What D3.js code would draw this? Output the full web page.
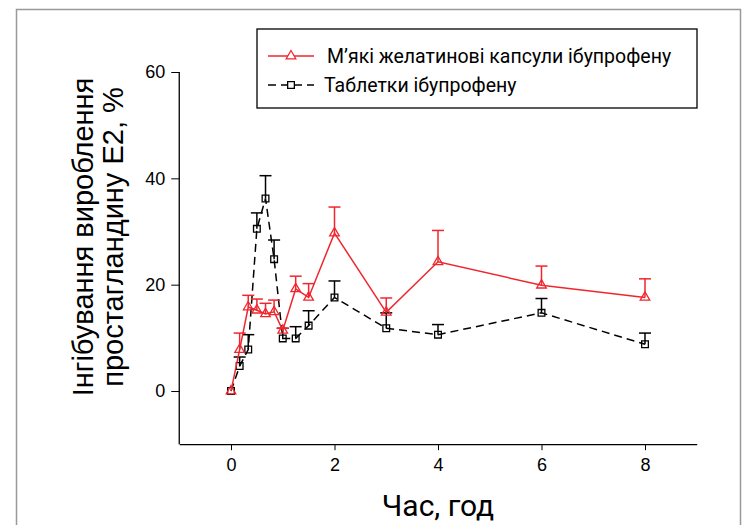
<!DOCTYPE html>
<html>
<head>
<meta charset="utf-8">
<script src="https://cdn.jsdelivr.net/npm/d3@7"></script>
<style>
  body { margin: 0; background: #fff; }
  svg { display: block; }
</style>
</head>
<body>
<svg width="749" height="525"></svg>
<script>
'use strict';

// time points, h
const times = [0, 0.167, 0.333, 0.5, 0.667, 0.833, 1, 1.25, 1.5, 2, 3, 4, 6, 8]

// soft gelatin capsules
const capsMean = [0, 7.8, 15.8, 15.2, 14.5, 14.9, 11.4, 19.2, 17.6, 29.7, 14.8, 24.3, 19.9, 17.6]
const capsErr = [0, 3.1, 2.2, 2.1, 2.0, 2.2, 0.4, 2.4, 2.6, 4.9, 2.7, 5.9, 3.6, 3.5]

// tablets
const tabsMean = [0, 4.7, 7.8, 30.5, 36.2, 24.8, 9.9, 9.9, 12.3, 17.6, 11.8, 10.6, 14.7, 8.8]
const tabsErr = [0, 1.7, 2.8, 3.0, 4.3, 3.6, 1.9, 2.2, 2.8, 3.1, 2.9, 1.9, 2.7, 2.1]

const xTicks = [0, 2, 4, 6, 8]
const yTicks = [0, 20, 40, 60]

const seriesNames = ['М’які желатинові капсули ібупрофену', 'Таблетки ібупрофену']

const svg = d3.select('svg')

// outer frame
svg.append('rect')
  .attr('x', 16.5).attr('y', 9.5)
  .attr('width', 724).attr('height', 530)
  .style('fill', 'none')
  .style('stroke', '#999')
  .style('stroke-width', '1.5px')

const x = d3.scaleLinear().domain([-1, 9]).range([179.25, 696.75])
const y = d3.scaleLinear().domain([-10, 60]).range([444.2, 72])

const tickFont = '"Liberation Sans", Arial, sans-serif'

// y axis: line goes from -10 to 60
svg.append('line')
  .attr('x1', x(-1)).attr('x2', x(-1))
  .attr('y1', y(-10)).attr('y2', y(60))
  .style('stroke', '#000').style('stroke-width', '1.3px')

const yAxis = svg.append('g').attr('transform', `translate(${x(-1)},0)`)
  .call(d3.axisLeft(y).tickValues(yTicks).tickSize(8).tickPadding(6))
yAxis.select('.domain').remove()
yAxis.selectAll('text').style('font-family', tickFont).style('font-size', '18px').style('fill', '#000')

const xAxis = svg.append('g').attr('transform', `translate(0,${y(-10)})`)
  .call(d3.axisBottom(x).tickValues(xTicks).tickSize(6).tickSizeOuter(0).tickPadding(8))
xAxis.select('.domain').style('stroke-width', '1.3px')
xAxis.selectAll('text').style('font-family', tickFont).style('font-size', '18px').style('fill', '#000')

// axis titles
svg.append('text')
  .attr('x', 438).attr('y', 516)
  .attr('text-anchor', 'middle')
  .style('font-family', 'Roboto, sans-serif')
  .style('font-size', '30px')
  .text('Час, год')

const yTitle = svg.append('text')
  .attr('transform', 'translate(0,237) rotate(-90)')
  .attr('text-anchor', 'middle')
  .style('font-family', tickFont)
  .style('font-size', '29px')
yTitle.append('tspan').attr('x', 0).attr('y', 93).text('Інгібування вироблення')
yTitle.append('tspan').attr('x', 0).attr('y', 123).text('простагландину Е2, %')

const capsData = times.map((t, i) => ({ t, v: capsMean[i], e: capsErr[i] }))
const tabsData = times.map((t, i) => ({ t, v: tabsMean[i], e: tabsErr[i] }))

const line = d3.line().x((d) => x(d.t)).y((d) => y(d.v))
const triangle = d3.symbol().type(d3.symbolTriangle).size(40)
const square = d3.symbol().type(d3.symbolSquare).size(45)

function drawSeries(data, color, dash, symbol) {
  const g = svg.append('g')
  g.append('path')
    .datum(data)
    .attr('d', line)
    .style('fill', 'none')
    .style('stroke', color)
    .style('stroke-width', '1.5px')
    .style('stroke-dasharray', dash)
  const bars = g.selectAll('g.err')
    .data(data.filter((d) => d.e > 0))
    .enter().append('g').attr('class', 'err')
  bars.append('line')
    .attr('x1', (d) => x(d.t)).attr('x2', (d) => x(d.t))
    .attr('y1', (d) => y(d.v)).attr('y2', (d) => y(d.v + d.e))
    .style('stroke', color).style('stroke-width', '1.5px')
  bars.append('line')
    .attr('x1', (d) => x(d.t) - 6).attr('x2', (d) => x(d.t) + 6)
    .attr('y1', (d) => y(d.v + d.e)).attr('y2', (d) => y(d.v + d.e))
    .style('stroke', color).style('stroke-width', '1.5px')
  g.selectAll('path.mark')
    .data(data)
    .enter().append('path')
    .attr('class', 'mark')
    .attr('d', symbol)
    .attr('transform', (d) => `translate(${x(d.t)},${y(d.v)})`)
    .style('fill', 'none')
    .style('stroke', color)
    .style('stroke-width', '1.3px')
}

drawSeries(tabsData, '#000', '8,5', square)
drawSeries(capsData, '#f0262e', null, triangle)

// legend
const legend = svg.append('g')
legend.append('rect')
  .attr('x', 257).attr('y', 29)
  .attr('width', 440).attr('height', 79)
  .style('fill', '#fff')
  .style('stroke', '#000')
  .style('stroke-width', '1.3px')

const legendItems = [
  { name: seriesNames[0], color: '#f0262e', dash: null, symbol: triangle, ly: 56, tx: 327 },
  { name: seriesNames[1], color: '#000', dash: '8,5', symbol: square, ly: 85, tx: 324 }
]
legendItems.forEach((it) => {
  legend.append('line')
    .attr('x1', 268).attr('x2', 314)
    .attr('y1', it.ly).attr('y2', it.ly)
    .style('stroke', it.color).style('stroke-width', '1.5px')
    .style('stroke-dasharray', it.dash)
  legend.append('path')
    .attr('d', it.symbol)
    .attr('transform', `translate(291,${it.ly})`)
    .style('fill', '#fff')
    .style('stroke', it.color)
    .style('stroke-width', '1.3px')
  legend.append('text')
    .attr('x', it.tx).attr('y', it.ly + 7)
    .style('font-family', 'Roboto, sans-serif')
    .style('font-size', '19.5px')
    .text(it.name)
})
</script>
</body>
</html>
